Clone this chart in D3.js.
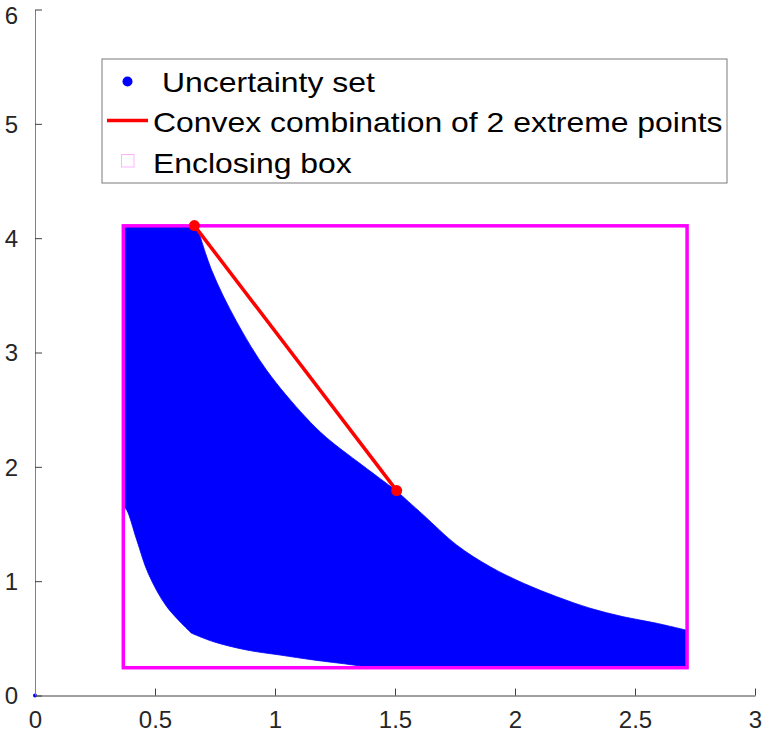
<!DOCTYPE html>
<html><head><meta charset="utf-8">
<script src="https://cdn.jsdelivr.net/npm/d3@7"></script>
<style>body{margin:0;background:#fff}svg{display:block}text{font-family:"Liberation Sans",Arial,Helvetica,sans-serif}</style>
</head><body>
<script>
// ---- data ----
const xTicks = [0, 0.5, 1, 1.5, 2, 2.5, 3];
const xTickLabels = ["0", "0.5", "1", "1.5", "2", "2.5", "3"];
const yTicks = [0, 1, 2, 3, 4, 5, 6];
const yTickLabels = ["0", "1", "2", "3", "4", "5", "6"];
// enclosing box
const boxX = [0.368, 2.717];
const boxY = [0.243, 4.108];
// upper boundary of uncertainty set (from top plateau down to the extreme point)
const upperAX = [0.675, 0.736, 0.840, 0.965, 1.125, 1.215, 1.360, 1.507];
const upperAY = [4.108, 3.720, 3.270, 2.845, 2.440, 2.255, 2.020, 1.789];
// upper boundary, from the extreme point down to right edge
const upperBX = [1.507, 1.618, 1.757, 1.896, 2.035, 2.174, 2.313, 2.451, 2.590, 2.717];
const upperBY = [1.789, 1.579, 1.316, 1.127, 0.982, 0.864, 0.763, 0.689, 0.632, 0.570];
// lower boundary, left part (from left edge down to the kink)
const lowerLeftX = [0.368, 0.382, 0.424, 0.472, 0.549, 0.653];
const lowerLeftY = [1.652, 1.623, 1.360, 1.067, 0.777, 0.544];
// lower boundary, right part (from the kink down to the bottom)
const lowerRightX = [0.653, 0.743, 0.882, 1.021, 1.160, 1.326, 1.400];
const lowerRightY = [0.544, 0.471, 0.398, 0.354, 0.311, 0.267, 0.243];
// convex combination of 2 extreme points
const extremeX = [0.664, 1.507];
const extremeY = [4.110, 1.792];
// stray point of uncertainty set at origin
const originPt = [0, 0];
const legendLabels = ["Uncertainty set", "Convex combination of 2 extreme points", "Enclosing box"];

// ---- layout ----
const W = 762, H = 738;
const svg = d3.select("body").append("svg").attr("width", W).attr("height", H);
svg.append("rect").attr("width", W).attr("height", H).attr("fill", "#fff");
const x = d3.scaleLinear().domain([0, 3]).range([35, 755]);
const y = d3.scaleLinear().domain([0, 6]).range([695.5, 9.5]);

// uncertainty set region
const smooth = d3.line().x(d => x(d[0])).y(d => y(d[1])).curve(d3.curveCatmullRom.alpha(0.5));
const zip = (a, b) => a.map((v, i) => [v, b[i]]);
const uaD = smooth(zip(upperAX, upperAY));
const ubD = smooth(zip(upperBX, upperBY));
const lrD = smooth(zip(lowerRightX, lowerRightY).reverse());
const llD = smooth(zip(lowerLeftX, lowerLeftY).reverse());
const d = `M${x(boxX[0])},${y(boxY[1])}L` + uaD.slice(1) + "L" + ubD.slice(1) +
  `L${x(boxX[1])},${y(boxY[0])}L` + lrD.slice(1) + "L" + llD.slice(1) + "Z";
svg.append("path").attr("d", d)
  .attr("fill", "#0000ff").attr("stroke", "#0000ff").attr("stroke-width", 0.8);

// enclosing box
svg.append("rect")
  .attr("x", x(boxX[0])).attr("y", y(boxY[1]))
  .attr("width", x(boxX[1]) - x(boxX[0])).attr("height", y(boxY[0]) - y(boxY[1]))
  .attr("fill", "none").attr("stroke", "#ff00ff").attr("stroke-width", 3.5);

// red segment + points
svg.append("path")
  .attr("d", d3.line().x(d => x(d[0])).y(d => y(d[1]))(zip(extremeX, extremeY)))
  .attr("stroke", "#ff0000").attr("stroke-width", 3.5).attr("fill", "none");
svg.selectAll("circle.ext").data(extremeX).enter().append("circle")
  .attr("class", "ext").attr("cx", d => x(d)).attr("cy", (d, i) => y(extremeY[i]))
  .attr("r", 5.5).attr("fill", "#ff0000");

// origin dot
svg.append("circle").attr("cx", x(originPt[0])).attr("cy", y(originPt[1])).attr("r", 2).attr("fill", "#0000ff");

// axes
const xAxis = d3.axisBottom(x).tickValues(xTicks).tickFormat((d, i) => xTickLabels[i]).tickSizeInner(-7).tickSizeOuter(0).tickPadding(15);
const gx = svg.append("g").attr("transform", `translate(0,${y(0)})`).call(xAxis);
gx.select(".domain").attr("stroke", "#404040");
gx.selectAll(".tick line").attr("stroke", "#404040");
gx.selectAll("text").attr("font-size", 24).attr("fill", "#262626").attr("font-family", "Liberation Sans, Arial, sans-serif");

const yAxis = d3.axisLeft(y).tickValues(yTicks).tickFormat((d, i) => yTickLabels[i]).tickSizeInner(-7).tickSizeOuter(0).tickPadding(17);
const gy = svg.append("g").attr("transform", `translate(${x(0)},0)`).call(yAxis);
gy.select(".domain").attr("stroke", "#808080");
gy.selectAll(".tick line").attr("stroke", "#404040");
gy.selectAll("text").attr("font-size", 24).attr("fill", "#262626").attr("font-family", "Liberation Sans, Arial, sans-serif")
  .attr("dy", (d) => d === 6 ? "0.6em" : "0.34em");

// legend
const lg = svg.append("g");
lg.append("rect").attr("x", 102).attr("y", 59).attr("width", 625).attr("height", 124)
  .attr("fill", "#fff").attr("stroke", "#7a7a7a").attr("stroke-width", 1);
lg.append("circle").attr("cx", 127.5).attr("cy", 81.5).attr("r", 5).attr("fill", "#0000ff");
lg.append("line").attr("x1", 107).attr("x2", 148).attr("y1", 120.5).attr("y2", 120.5).attr("stroke", "#ff0000").attr("stroke-width", 3.5);
lg.append("rect").attr("x", 121.5).attr("y", 154.5).attr("width", 12.5).attr("height", 12.5)
  .attr("fill", "none").attr("stroke", "#ffb3ff").attr("stroke-width", 1);
const ly = [91.7, 132.3, 173.3], lx = [162, 153, 153];
legendLabels.forEach((t, i) => {
  const el = lg.append("text").attr("x", lx[i]).attr("y", ly[i]).attr("font-size", 28).attr("fill", "#000").text(t);
  const w = el.node().getComputedTextLength();
  el.attr("textLength", w * 1.14).attr("lengthAdjust", "spacingAndGlyphs");
});
</script>
</body></html>
